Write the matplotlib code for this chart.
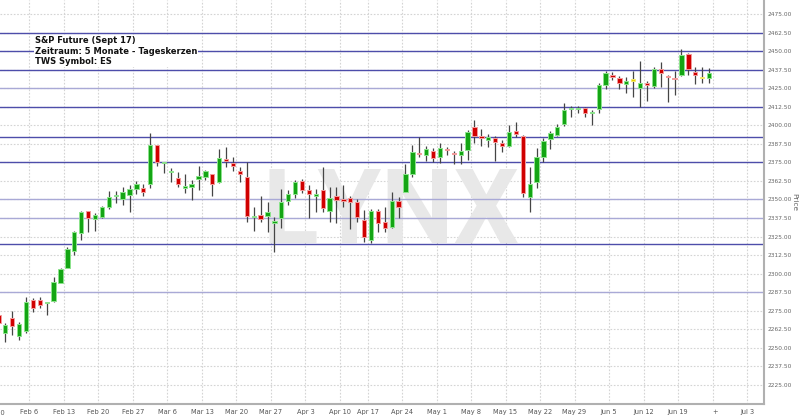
import numpy as np
import matplotlib
matplotlib.use('Agg')
import matplotlib.pyplot as plt

# daily candles, Jan 30 - Jun 23 2017 (trading-day index 0..103)
opens = [2272.2, 2259.8, 2269.9, 2258.2, 2261.2, 2282.3, 2282.3, 2280.2, 2281.6, 2293.9,
         2304.0, 2315.5, 2327.2, 2342.0, 2337.0, 2338.0, 2344.7, 2352.4, 2350.3, 2353.2,
         2357.3, 2357.7, 2360.2, 2386.7, 2374.4, 2368.3, 2364.3, 2357.9, 2358.6, 2363.6,
         2364.9, 2367.2, 2361.6, 2376.6, 2374.4, 2369.4, 2365.4, 2338.0, 2339.5, 2339.1,
         2334.3, 2337.3, 2349.2, 2354.0, 2362.5, 2356.4, 2352.5, 2356.4, 2342.4, 2352.3,
         2349.6, 2351.2, 2348.5, 2336.2, 2322.7, 2342.2, 2334.6, 2331.3, 2348.9, 2355.2,
         2367.2, 2380.8, 2380.0, 2382.9, 2378.8, 2383.8, 2380.8, 2380.0, 2383.4, 2399.0,
         2392.8, 2390.1, 2391.6, 2388.3, 2386.0, 2396.3, 2392.8, 2351.5, 2362.0, 2378.8,
         2390.8, 2393.5, 2400.7, 2410.7, 2411.0, 2411.4, 2408.3, 2411.1, 2427.1, 2433.9,
         2431.7, 2427.6, 2430.0, 2425.3, 2428.3, 2426.5, 2438.1, 2433.4, 2431.2, 2433.9,
         2447.8, 2435.9, 2431.7, 2431.7]
highs = [2275.5, 2267.0, 2274.9, 2267.6, 2284.5, 2283.4, 2284.3, 2281.1, 2298.0, 2304.0,
         2317.8, 2328.8, 2342.4, 2342.3, 2340.7, 2345.6, 2355.5, 2355.9, 2358.6, 2360.0,
         2362.3, 2360.4, 2394.6, 2387.0, 2375.5, 2371.0, 2368.7, 2367.2, 2362.9, 2372.8,
         2369.9, 2367.5, 2383.8, 2385.6, 2378.8, 2372.1, 2375.1, 2345.1, 2352.3, 2348.1,
         2338.0, 2356.9, 2356.4, 2363.1, 2363.6, 2359.8, 2356.9, 2371.7, 2358.2, 2358.2,
         2359.8, 2352.3, 2350.1, 2342.9, 2343.6, 2343.6, 2345.1, 2355.2, 2351.5, 2373.7,
         2386.7, 2392.3, 2386.0, 2384.5, 2387.9, 2385.2, 2382.9, 2387.9, 2396.8, 2403.6,
         2397.3, 2394.1, 2392.8, 2390.1, 2400.2, 2402.0, 2393.5, 2371.7, 2384.5, 2391.2,
         2396.3, 2400.9, 2414.8, 2413.0, 2413.0, 2412.5, 2410.3, 2428.7, 2436.8, 2436.1,
         2433.2, 2432.7, 2436.8, 2443.5, 2430.0, 2439.1, 2442.8, 2433.9, 2436.8, 2451.2,
         2448.5, 2439.5, 2439.1, 2438.4]
lows = [2264.1, 2254.2, 2258.7, 2255.3, 2259.8, 2274.4, 2277.1, 2272.2, 2281.1, 2293.5,
        2303.6, 2312.6, 2322.7, 2328.3, 2328.9, 2337.3, 2343.4, 2347.8, 2346.5, 2341.8,
        2353.7, 2352.3, 2357.9, 2372.8, 2368.0, 2361.6, 2358.6, 2354.2, 2349.6, 2356.4,
        2363.1, 2352.5, 2360.9, 2372.1, 2369.4, 2362.0, 2335.0, 2328.9, 2335.0, 2328.3,
        2314.8, 2330.6, 2346.3, 2350.8, 2354.2, 2337.3, 2341.8, 2341.8, 2335.0, 2333.9,
        2344.7, 2330.3, 2335.0, 2321.5, 2320.5, 2328.1, 2327.9, 2330.6, 2337.3, 2355.0,
        2365.4, 2378.8, 2376.1, 2375.5, 2374.8, 2380.0, 2373.9, 2373.9, 2376.6, 2387.9,
        2386.2, 2385.2, 2376.1, 2382.2, 2385.6, 2391.9, 2351.9, 2341.4, 2357.9, 2375.1,
        2383.8, 2392.8, 2399.5, 2405.4, 2408.5, 2405.4, 2400.2, 2408.1, 2424.3, 2430.5,
        2424.3, 2421.6, 2418.9, 2412.5, 2416.6, 2424.9, 2425.6, 2415.9, 2420.4, 2433.2,
        2433.9, 2427.8, 2428.3, 2428.3]
closes = [2266.8, 2265.2, 2264.7, 2265.9, 2281.1, 2276.7, 2278.9, 2280.6, 2294.6, 2303.2,
          2316.8, 2327.9, 2341.6, 2337.3, 2339.5, 2344.9, 2351.5, 2353.0, 2354.8, 2356.9,
          2360.4, 2355.2, 2386.7, 2375.5, 2374.8, 2368.7, 2360.2, 2358.4, 2360.4, 2365.8,
          2369.2, 2360.6, 2377.8, 2376.1, 2372.6, 2367.4, 2339.0, 2339.1, 2336.8, 2341.4,
          2334.8, 2348.1, 2353.7, 2361.9, 2356.4, 2353.5, 2353.7, 2344.1, 2350.8, 2349.6,
          2349.2, 2348.3, 2338.0, 2324.9, 2342.2, 2334.3, 2331.0, 2349.2, 2344.7, 2367.2,
          2382.2, 2380.4, 2383.8, 2378.1, 2384.5, 2383.1, 2380.4, 2382.9, 2395.7, 2392.8,
          2391.2, 2392.3, 2388.5, 2386.0, 2395.7, 2394.1, 2354.6, 2360.4, 2378.4, 2389.6,
          2395.0, 2398.6, 2410.3, 2411.0, 2411.6, 2408.5, 2408.5, 2427.1, 2435.0, 2432.3,
          2428.7, 2430.0, 2430.0, 2428.3, 2426.9, 2437.7, 2435.4, 2432.3, 2431.0, 2447.4,
          2437.7, 2433.7, 2431.7, 2435.0]

# weekly date ticks: label and trading-day index of that Monday
tick_labels = ['Feb 6', 'Feb 13', 'Feb 20', 'Feb 27', 'Mar 6', 'Mar 13', 'Mar 20', 'Mar 27',
               'Apr 3', 'Apr 10', 'Apr 17', 'Apr 24', 'May 1', 'May 8', 'May 15', 'May 22',
               'May 29', 'Jun 5', 'Jun 12', 'Jun 19', '+', 'Jul 3']
tick_days = [5, 10, 15, 20, 25, 30, 35, 40, 45, 50, 54, 59, 64, 69, 74, 79, 84, 89, 94, 99, 104, 109]

# drawn support / resistance levels
levels_dark = [2462.5, 2450, 2437.5, 2412.5, 2392, 2375, 2320]
levels_light = [2425, 2350, 2337.5, 2287.5]

title_lines = ['S&P Future (Sept 17)', 'Zeitraum: 5 Monate - Tageskerzen', 'TWS Symbol: ES']

fig = plt.figure(figsize=(8, 4.17), dpi=100)
ax = fig.add_axes([0, 13 / 417, 764 / 800, 404 / 417])

x = np.arange(len(opens))
o = np.array(opens)
h = np.array(highs)
l = np.array(lows)
c = np.array(closes)

ax.set_xlim(0.23, 110.96)
ax.set_ylim(2212.2, 2484.4)

# grid
yt = np.arange(2225, 2475.1, 12.5)
ax.set_yticks(yt)
ax.set_yticklabels(['%.2f' % v for v in yt])
grid_x = [d - 0.5 for d in tick_days]
for gx in grid_x:
    ax.axvline(gx, color='#d4d4d4', lw=0.8, ls=(0, (1.5, 1.5)), zorder=0)
for gy in yt:
    ax.axhline(gy, color='#d4d4d4', lw=0.8, ls=(0, (1.5, 1.5)), zorder=0)

# watermark
ax.text(0.512, 0.47, 'LYNX', transform=ax.transAxes, ha='center', va='center',
        fontsize=74, fontweight='bold', color='#e8e8e8',
        family=['Roboto', 'DejaVu Sans'], zorder=1)

for lv in levels_light:
    ax.axhline(lv, color='#a9a9d6', lw=1.0, zorder=2)
for lv in levels_dark:
    ax.axhline(lv, color='#4d4daa', lw=1.0, zorder=2)

# candles
up = c > o
down = c < o
body_col = np.where(up, '#14a514', np.where(down, '#d00000', '#e8d000'))
edge_col = np.where(up, '#8de38d', np.where(down, '#f29a9a', '#f5e86a'))
ax.vlines(x, l, h, color='#454545', lw=0.9, zorder=3)
bottom = np.minimum(o, c)
height = np.maximum(np.abs(c - o), 0.9)
ax.bar(x, height, bottom=bottom, width=0.62, color=body_col, edgecolor=edge_col,
       linewidth=0.7, zorder=4)

# info box
ax.text(35 / 764, 1 - 36 / 404, '\n'.join(title_lines), transform=ax.transAxes,
        ha='left', va='top', fontsize=6, fontweight='bold', color='#111111',
        linespacing=1.25, zorder=6,
        bbox=dict(facecolor='white', edgecolor='none', pad=0.5))

# axes styling
ax.set_xticks(grid_x)
ax.set_xticklabels(tick_labels)
ax.set_xticks([103.5], minor=True)
ax.tick_params(axis='x', which='major', length=0, pad=3.5, labelsize=4.8, labelcolor='#555555')
ax.tick_params(axis='x', which='minor', length=9, width=0.9, color='#555555')
ax.yaxis.tick_right()
ax.yaxis.set_label_position('right')
ax.tick_params(axis='y', length=0, pad=2.5, labelsize=4.2, labelcolor='#666666')
ax.set_ylabel('Price', rotation=270, fontsize=5.3, color='#666666', va='center')
ax.yaxis.set_label_coords(794 / 764, 0.5)
for lab in ax.get_xticklabels():
    if lab.get_text() == '+':
        lab.set_horizontalalignment('left')
for s in ['top', 'left']:
    ax.spines[s].set_visible(False)
ax.spines['right'].set_color('#b0b0b0')
ax.spines['right'].set_linewidth(1.5)
ax.spines['bottom'].set_color('#b0b0b0')
ax.spines['bottom'].set_linewidth(1.5)

# first (cut off) date label at the left edge
ax.text(-0.5, -0.014, 'Jan 30', transform=ax.get_xaxis_transform(), ha='center', va='top',
        fontsize=4.8, color='#555555', clip_on=False)

fig.savefig('out.png', dpi=100)
